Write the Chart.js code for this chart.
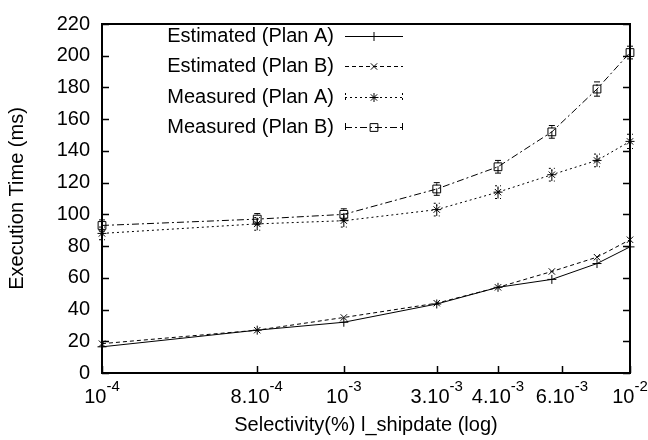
<!DOCTYPE html>
<html>
<head>
<meta charset="utf-8">
<script src="https://cdn.jsdelivr.net/npm/chart.js@4.4.1/dist/chart.umd.min.js"></script>
<style>
  html, body { margin: 0; padding: 0; background: #fff; }
  #wrap { width: 648px; height: 440px; }
</style>
</head>
<body>
<div id="wrap"><canvas id="chart" width="648" height="440"></canvas></div>
<script>
// selectivity axis: positions of points and labelled ticks along the (uneven) x axis, 0..100
const xPoints = [0, 29.4, 45.8, 63.4, 75.0, 85.2, 93.75, 100];
const xTicks = [0, 29.3, 45.8, 63.4, 75.0, 87.1, 100];
const xTickLabels = ['10^-4', '8.10^-4', '10^-3', '3.10^-3', '4.10^-3', '6.10^-3', '10^-2'];

const seriesNames = ['Estimated (Plan A)', 'Estimated (Plan B)', 'Measured (Plan A)', 'Measured (Plan B)'];
const estimatedA = [16.5, 27, 32, 43.5, 54, 59, 69, 79.5];
const estimatedB = [18.5, 27, 35, 44, 54, 64, 73, 84];
const measuredA = [88, 94, 96, 103, 114, 125, 134, 146];
const measuredB = [93, 97, 100, 116, 130, 152, 179, 202];
const measuredAErr = [4, 4, 4, 4, 4, 4, 4, 4.5];
const measuredBErr = [3.5, 3.5, 3.5, 4, 4, 4, 4.5, 4];

const yMin = 0, yMax = 220, yStep = 20;

const FONT = 'Liberation Sans, Arial, sans-serif';

function pts(vals) {
    return vals.map((v, i) => ({ x: xPoints[i], y: v }));
}

const styles = [
    { dash: [], pointStyle: 'cross', radius: 4.5 },
    { dash: [4, 3], pointStyle: 'crossRot', radius: 4.5 },
    { dash: [2, 3], pointStyle: 'star', radius: 4.5 },
    { dash: [7, 3, 2, 3], pointStyle: 'rect', radius: 5.5 }
];
const allData = [estimatedA, estimatedB, measuredA, measuredB];
const errData = [null, null, measuredAErr, measuredBErr];

const datasets = allData.map((vals, i) => ({
    label: seriesNames[i],
    data: pts(vals),
    borderColor: '#000',
    borderWidth: 1,
    borderDash: styles[i].dash,
    pointStyle: styles[i].pointStyle,
    pointRadius: styles[i].radius,
    pointBorderColor: '#000',
    pointBackgroundColor: 'rgba(0,0,0,0)',
    pointBorderWidth: 1,
    fill: false,
    clip: false,
    errors: errData[i]
}));

// frame, inward ticks, x tick labels with superscripts, error bars and key
const framePlugin = {
    id: 'frame',
    beforeDatasetsDraw(chart) {
        const ctx = chart.ctx;
        const a = chart.chartArea;
        const xs = chart.scales.x, ys = chart.scales.y;
        ctx.save();
        ctx.strokeStyle = '#000';
        ctx.lineWidth = 2;
        ctx.strokeRect(a.left, a.top, a.right - a.left, a.bottom - a.top);
        ctx.lineWidth = 1.5;
        ctx.beginPath();
        for (let v = yMin; v <= yMax; v += yStep) {
            const y = Math.round(ys.getPixelForValue(v)) + 0.5;
            ctx.moveTo(a.left, y); ctx.lineTo(a.left + 7, y);
            ctx.moveTo(a.right, y); ctx.lineTo(a.right - 7, y);
        }
        xTicks.forEach(t => {
            const x = Math.round(xs.getPixelForValue(t)) + 0.5;
            ctx.moveTo(x, a.bottom); ctx.lineTo(x, a.bottom - 7);
        });
        ctx.stroke();

        // x tick labels
        ctx.fillStyle = '#000';
        xTickLabels.forEach((lab, i) => {
            const parts = lab.split('^');
            ctx.font = '20px ' + FONT;
            const w1 = ctx.measureText(parts[0]).width;
            ctx.font = '15px ' + FONT;
            const w2 = ctx.measureText(parts[1]).width;
            const cx = xs.getPixelForValue(xTicks[i]);
            const x0 = cx - (w1 + w2) / 2;
            ctx.textAlign = 'left';
            ctx.textBaseline = 'alphabetic';
            ctx.font = '20px ' + FONT;
            ctx.fillText(parts[0], x0, 403);
            ctx.font = '15px ' + FONT;
            ctx.fillText(parts[1], x0 + w1, 391);
        });
        ctx.restore();
    },
    afterDatasetsDraw(chart) {
        const ctx = chart.ctx;
        const ys = chart.scales.y;
        ctx.save();
        ctx.strokeStyle = '#000';
        ctx.lineWidth = 1;
        chart.data.datasets.forEach((ds, i) => {
            if (!ds.errors) return;
            const meta = chart.getDatasetMeta(i);
            ctx.setLineDash(ds.borderDash);
            meta.data.forEach((p, j) => {
                const v = ds.data[j].y, e = ds.errors[j];
                const y1 = ys.getPixelForValue(v - e), y2 = ys.getPixelForValue(v + e);
                ctx.beginPath();
                ctx.moveTo(p.x, y1); ctx.lineTo(p.x, y2);
                ctx.moveTo(p.x - 3, y1); ctx.lineTo(p.x + 3, y1);
                ctx.moveTo(p.x - 3, y2); ctx.lineTo(p.x + 3, y2);
                ctx.stroke();
            });
        });
        ctx.setLineDash([]);

        // key
        const rowY = [36, 66, 97, 127];
        chart.data.datasets.forEach((ds, i) => {
            const y = rowY[i];
            ctx.fillStyle = '#000';
            ctx.font = '20px ' + FONT;
            ctx.textAlign = 'right';
            ctx.textBaseline = 'middle';
            ctx.fillText(ds.label, 334, y);
            ctx.setLineDash(ds.borderDash);
            ctx.beginPath();
            ctx.moveTo(345, y + 0.5); ctx.lineTo(403, y + 0.5);
            if (ds.errors) {
                ctx.moveTo(345.5, y - 4); ctx.lineTo(345.5, y + 4);
                ctx.moveTo(402.5, y - 4); ctx.lineTo(402.5, y + 4);
            }
            ctx.stroke();
            ctx.setLineDash([]);
            ctx.fillStyle = 'rgba(0,0,0,0)';
            Chart.helpers.drawPoint(ctx, {
                pointStyle: ds.pointStyle, radius: ds.pointRadius, rotation: 0, borderWidth: 1
            }, 374, y + 0.5);
        });
        ctx.restore();
    }
};

new Chart(document.getElementById('chart'), {
    type: 'line',
    data: { datasets: datasets },
    plugins: [framePlugin],
    options: {
        responsive: false,
        animation: false,
        layout: { padding: { top: 14, right: 18, left: 0, bottom: 0 } },
        plugins: {
            legend: { display: false },
            tooltip: { enabled: false }
        },
        scales: {
            x: {
                type: 'linear',
                min: 0,
                max: 100,
                grid: { display: false },
                border: { display: false },
                ticks: { display: false },
                afterFit: function(scale) { scale.height = 67; },
                title: {
                    display: true,
                    text: 'Selectivity(%) l_shipdate (log)',
                    color: '#000',
                    font: { family: FONT, size: 20 },
                    padding: { top: 0, bottom: 3 }
                }
            },
            y: {
                min: yMin,
                max: yMax,
                grid: { display: false, drawTicks: false },
                border: { display: false },
                ticks: {
                    stepSize: yStep,
                    color: '#000',
                    padding: 12,
                    font: { family: FONT, size: 20 }
                },
                afterFit: function(scale) { scale.width = 102; },
                title: {
                    display: true,
                    text: 'Execution Time (ms)',
                    color: '#000',
                    font: { family: FONT, size: 20 },
                    padding: { top: 5, bottom: 0 }
                }
            }
        }
    }
});
</script>
</body>
</html>
